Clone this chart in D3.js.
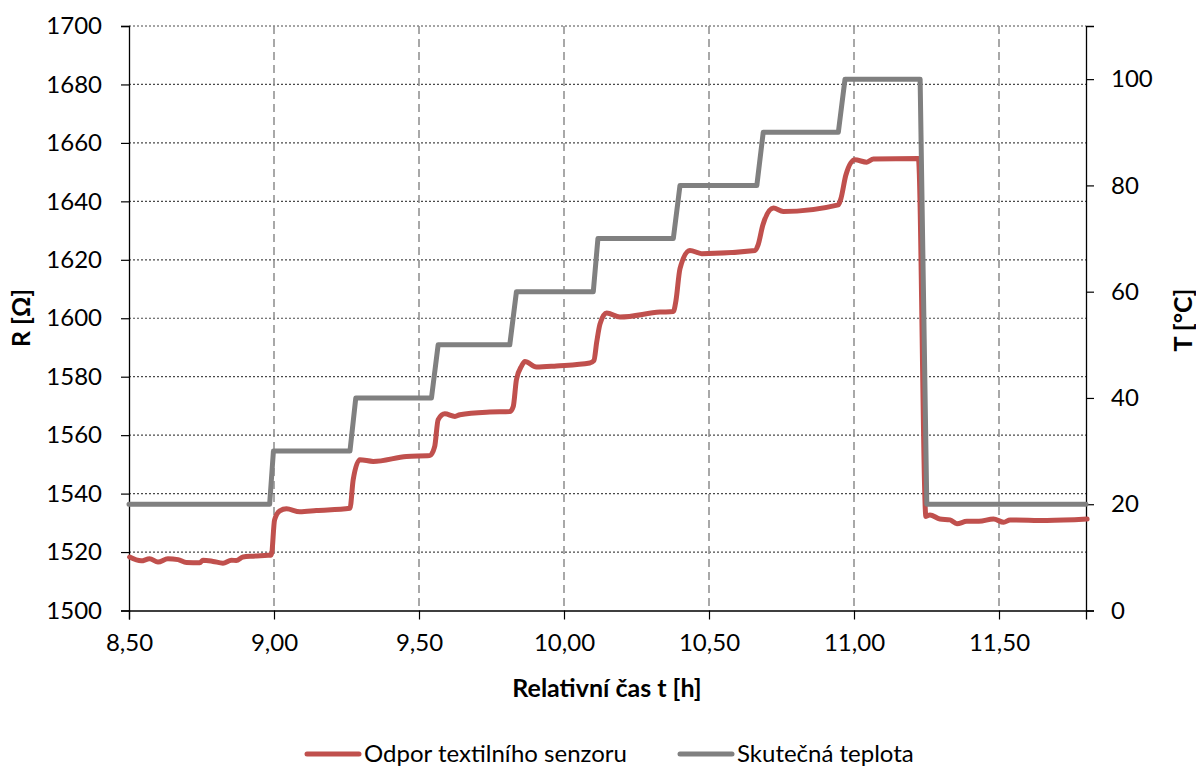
<!DOCTYPE html>
<html>
<head>
<meta charset="utf-8">
<script src="https://cdn.jsdelivr.net/npm/d3@7"></script>
<style>
  body { margin: 0; background: #fff; }
  text { font-family: Lato, "Open Sans", sans-serif; fill: #000; }
</style>
</head>
<body>
<svg id="chart" width="1196" height="769"></svg>
<script>
// odpor senzoru (R) - cas [h] a hodnota [Ohm]
var timeR = [8.502, 8.542, 8.571, 8.600, 8.634, 8.669, 8.698, 8.744, 8.755, 8.790, 8.824, 8.853, 8.870, 8.893, 8.928, 8.979, 8.991,
  9.002, 9.020, 9.043, 9.089, 9.146, 9.262, 9.273, 9.296, 9.342, 9.457, 9.537, 9.554, 9.566, 9.589, 9.624, 9.641, 9.744, 9.814,
  9.825, 9.836, 9.854, 9.865, 9.905, 9.974, 10.089, 10.103, 10.113, 10.124, 10.147, 10.193, 10.331, 10.377, 10.386, 10.400, 10.434,
  10.475, 10.659, 10.669, 10.686, 10.722, 10.756, 10.946, 10.955, 10.972, 11.003, 11.044, 11.067, 11.222, 11.248, 11.262, 11.296,
  11.331, 11.355, 11.389, 11.431, 11.481, 11.516, 11.538, 11.665, 11.804];
var valueR = [1518.3, 1517.0, 1517.7, 1516.6, 1517.7, 1517.4, 1516.4, 1516.3, 1517.2, 1516.8, 1516.2, 1517.2, 1517.1, 1518.3, 1518.6, 1518.9, 1519.0,
  1531.0, 1534.1, 1534.8, 1533.8, 1534.2, 1535.0, 1544.7, 1551.6, 1551.0, 1552.7, 1553.0, 1556.1, 1565.3, 1567.3, 1566.4, 1567.0, 1567.9, 1568.1,
  1569.8, 1579.0, 1583.7, 1585.2, 1583.3, 1583.7, 1584.7, 1585.5, 1592.0, 1598.0, 1601.8, 1600.4, 1602.1, 1602.3, 1606.0, 1617.0, 1623.2,
  1622.1, 1623.2, 1625.0, 1632.0, 1637.7, 1636.5, 1638.8, 1641.0, 1649.0, 1654.2, 1653.4, 1654.5, 1654.7, 1532.2, 1532.7, 1531.3,
  1531.0, 1529.7, 1530.5, 1530.5, 1531.3, 1530.2, 1531.0, 1530.8, 1531.3];

// skutecna teplota (T) - cas [h] a hodnota [°C]
var timeT = [8.50, 8.985, 8.998, 9.262, 9.282, 9.543, 9.566, 9.813, 9.836, 10.101, 10.117, 10.377, 10.400, 10.665, 10.687,
  10.946, 10.969, 11.228, 11.251, 11.80];
var valueT = [20, 20, 30, 30, 40, 40, 50, 50, 60, 60, 70, 70, 80, 80, 90, 90, 100, 100, 20, 20];

var xTicks = [8.5, 9.0, 9.5, 10.0, 10.5, 11.0, 11.5];
var rTicks = [1500, 1520, 1540, 1560, 1580, 1600, 1620, 1640, 1660, 1680, 1700];
var tTicks = [0, 20, 40, 60, 80, 100];

var seriesNames = ["Odpor textilního senzoru", "Skutečná teplota"];
var seriesColors = ["#C0504D", "#808080"];

var margin = { top: 26, right: 110, bottom: 158, left: 129 };
var svg = d3.select("#chart");

var x = d3.scaleLinear().domain([8.5, 11.8]).range([margin.left, 1086]);
var yR = d3.scaleLinear().domain([1500, 1700]).range([610.5, margin.top]);
var yT = d3.scaleLinear().domain([0, 110]).range([610.5, margin.top]);

var comma = function(d) { return d3.format(".2f")(d).replace(".", ","); };

// mrizka
svg.append("g")
  .selectAll("line")
  .data(rTicks.slice(1))
  .enter()
  .append("line")
  .attr("x1", x.range()[0]).attr("x2", x.range()[1])
  .attr("y1", function(d) { return yR(d); })
  .attr("y2", function(d) { return yR(d); })
  .attr("stroke", "#4a4a4a")
  .attr("stroke-width", 1.2)
  .attr("stroke-dasharray", "2,2");

svg.append("g")
  .selectAll("line")
  .data(xTicks.slice(1))
  .enter()
  .append("line")
  .attr("x1", function(d) { return x(d); })
  .attr("x2", function(d) { return x(d); })
  .attr("y1", yR.range()[1]).attr("y2", yR.range()[0])
  .attr("stroke", "#8c8c8c")
  .attr("stroke-width", 1.5)
  .attr("stroke-dasharray", "8,5");

// osy
var xAxis = d3.axisBottom(x).tickValues(xTicks).tickFormat(comma).tickSizeOuter(0).tickSize(9).tickPadding(14);
var yAxisL = d3.axisLeft(yR).tickValues(rTicks).tickFormat(d3.format("d")).tickSizeOuter(0).tickSize(8).tickPadding(19);
var yAxisR = d3.axisRight(yT).tickValues(tTicks).tickFormat(d3.format("d")).tickSizeOuter(0).tickSize(8).tickPadding(17);

function styleAxis(g) {
  g.select(".domain").attr("stroke", "#000").attr("stroke-width", 1.3);
  g.selectAll(".tick line").attr("stroke", "#000").attr("stroke-width", 1.2);
  g.selectAll(".tick text").style("font-size", "24px").style("font-family", "Lato, sans-serif").attr("fill", "#000");
}

svg.append("g")
  .attr("transform", "translate(0," + yR.range()[0] + ")")
  .call(xAxis).call(styleAxis);
svg.append("g")
  .attr("transform", "translate(" + x.range()[0] + ",0)")
  .call(yAxisL).call(styleAxis);
svg.append("g")
  .attr("transform", "translate(" + x.range()[1] + ",0)")
  .call(yAxisR).call(styleAxis);

// popisky os
svg.append("text")
  .attr("x", 607).attr("y", 697)
  .attr("text-anchor", "middle")
  .style("font-size", "25px").style("font-weight", "bold")
  .text("Relativní čas t [h]");
svg.append("text")
  .attr("transform", "translate(30,318) rotate(-90)")
  .attr("text-anchor", "middle")
  .style("font-size", "25px").style("font-weight", "bold")
  .text("R [Ω]");
svg.append("text")
  .attr("transform", "translate(1192,320) rotate(-90)")
  .attr("text-anchor", "middle")
  .style("font-size", "25px").style("font-weight", "bold")
  .text("T [°C]");

// krivky
var lineR = d3.line()
  .x(function(d, i) { return x(timeR[i]); })
  .y(function(d) { return yR(d); })
  .curve(d3.curveMonotoneX);
var lineT = d3.line()
  .x(function(d, i) { return x(timeT[i]); })
  .y(function(d) { return yT(d); });

svg.append("path")
  .attr("d", lineR(valueR))
  .attr("fill", "none")
  .attr("stroke", seriesColors[0])
  .attr("stroke-width", 5)
  .attr("stroke-linejoin", "round")
  .attr("stroke-linecap", "round");
svg.append("path")
  .attr("d", lineT(valueT))
  .attr("fill", "none")
  .attr("stroke", seriesColors[1])
  .attr("stroke-width", 5)
  .attr("stroke-linejoin", "round")
  .attr("stroke-linecap", "round");

// legenda
var legendX = [307, 680];
var legend = svg.append("g")
  .selectAll("g")
  .data(seriesNames)
  .enter()
  .append("g")
  .attr("transform", function(d, i) { return "translate(" + legendX[i] + ",754)"; });
legend.append("line")
  .attr("x1", 0).attr("x2", 52)
  .attr("stroke", function(d, i) { return seriesColors[i]; })
  .attr("stroke-width", 5)
  .attr("stroke-linecap", "round");
legend.append("text")
  .attr("x", 57).attr("dy", "0.33em")
  .style("font-size", "24px")
  .text(function(d) { return d; });
</script>
</body>
</html>
